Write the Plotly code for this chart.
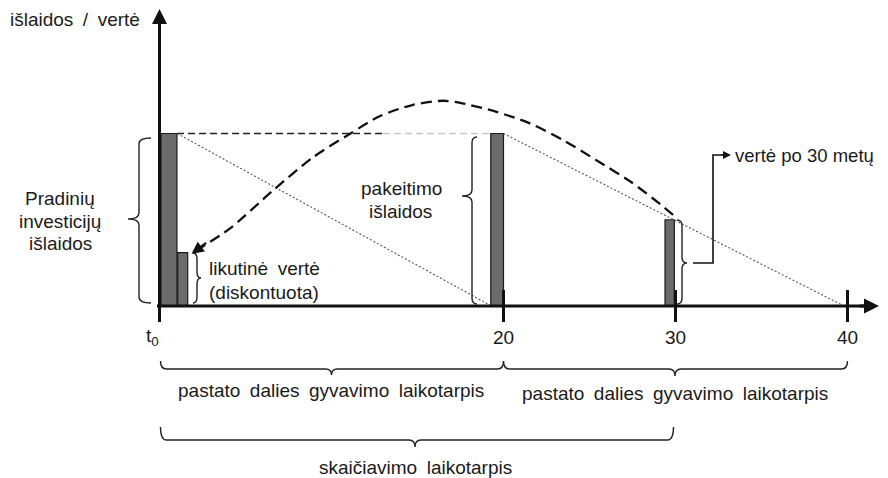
import plotly.graph_objects as go

# ---------------- data ----------------
bar_t = [0.55, 1.35, 19.63, 29.66]          # bar centres (years)
bar_w = [0.93, 0.58, 0.74, 0.54]            # bar widths (years)
bar_v = [100, 31, 100, 50]                  # costs / values

repl_line_t = [1.02, 13.0, 19.26]           # horizontal dashed reference (replacement cost level)
repl_line_v = [100, 100, 100]
dep1_t = [1.02, 19.3]                       # depreciation of first component
dep1_v = [100, 0]
dep2_t = [20.0, 39.8]                       # depreciation of replacement component
dep2_v = [100, 0]

curve_t = [2.1, 4.1, 6.6, 8.9, 11.1, 12.8, 14.7, 16.5, 17.6, 19.6, 21.5, 23.5, 25.4, 27.4, 29.3, 29.95]
curve_v = [32, 45, 67, 86, 100, 110, 116.5, 119, 117.5, 112.5, 106, 96, 84.5, 72, 57.5, 52]

tick_years = [0, 20, 30, 40]
tick_labels = ["t<sub>0</sub>", "20", "30", "40"]

life1 = (0, 20)
life2 = (20, 40)
calc_period = (0, 30)

# ---------------- scale ----------------
W, H = 888, 478
OFF = 8                       # default page body margin
PX0, SX = 159.5, 17.2
PY0, SY = 306.0, 1.725


def T(px):
    return (px - PX0) / SX


def V(py):
    return (PY0 - py) / SY


def dx(p):
    return p / SX


def dy(p):
    return p / SY


SP = "\u2002"   # wider word spacing, as in the original
FONT = dict(family="Liberation Sans, Arial, Helvetica, sans-serif", size=19, color="#1a1a1a")
INK = "#111111"

fig = go.Figure()

# bars
fig.add_trace(go.Bar(x=bar_t, y=bar_v, width=bar_w,
                     marker=dict(color="#6b6b6b", line=dict(color="#1a1a1a", width=1.2)),
                     hoverinfo="skip"))

# dashed horizontal (black then light gray)
fig.add_trace(go.Scatter(x=repl_line_t[:2], y=repl_line_v[:2], mode="lines",
                         line=dict(color="#222222", width=1.4, dash="7px,4px"), hoverinfo="skip"))
fig.add_trace(go.Scatter(x=repl_line_t[1:], y=repl_line_v[1:], mode="lines",
                         line=dict(color="#c8c8c8", width=1.4, dash="7px,4px"), hoverinfo="skip"))
# dotted depreciation lines
for tt, vv in ((dep1_t, dep1_v), (dep2_t, dep2_v)):
    fig.add_trace(go.Scatter(x=tt, y=vv, mode="lines",
                             line=dict(color="#555555", width=1.1, dash="2px,2px"), hoverinfo="skip"))
# discounting curve
fig.add_trace(go.Scatter(x=curve_t, y=curve_v, mode="lines",
                         line=dict(color=INK, width=2.3, dash="11px,6px", shape="spline", smoothing=0.8),
                         hoverinfo="skip"))

shapes = []
annotations = []

# axes
shapes.append(dict(type="line", xref="x", yref="y", x0=0, x1=0, y0=V(322), y1=V(20),
                   line=dict(color=INK, width=3)))
shapes.append(dict(type="line", xref="x", yref="y", x0=T(157), x1=T(868), y0=0, y1=0,
                   line=dict(color=INK, width=3)))
annotations.append(dict(x=0, y=V(9), ax=0, ay=V(30), xref="x", yref="y", axref="x", ayref="y",
                        text="", showarrow=True, arrowhead=2, arrowsize=1, arrowwidth=3, arrowcolor=INK))
annotations.append(dict(x=T(879), y=0, ax=T(858), ay=0, xref="x", yref="y", axref="x", ayref="y",
                        text="", showarrow=True, arrowhead=2, arrowsize=1, arrowwidth=3, arrowcolor=INK))
for ty in tick_years[1:]:
    shapes.append(dict(type="line", xref="x", yref="y", x0=ty, x1=ty, y0=V(290), y1=V(322),
                       line=dict(color=INK, width=3)))
# tick labels
for ty, lab in zip(tick_years, tick_labels):
    xx = ty if ty else T(152)
    annotations.append(dict(x=xx, y=V(337), xref="x", yref="y", text=lab, showarrow=False,
                            font=FONT, xanchor="center", yanchor="middle"))
annotations.append(dict(x=T(883), y=V(321), xref="x", yref="y", text="t", showarrow=False,
                        font=FONT, xanchor="center", yanchor="middle"))
annotations.append(dict(x=T(8), y=V(19), xref="x", yref="y", text=f"išlaidos{SP}/{SP}vertė", showarrow=False,
                        font=FONT, xanchor="left", yanchor="middle"))

# curve arrowhead
annotations.append(dict(x=curve_t[0] - dx(4), y=curve_v[0] - dy(3), xref="x", yref="y", ax=16, ay=-12,
                        text="", showarrow=True, arrowhead=2, arrowsize=1.1, arrowwidth=2.2, arrowcolor=INK))


# braces
def vbrace(x, y1, y2, ym, w, tip, side):
    """vertical brace at x from y1 (bottom) to y2 (top), tip at ym; side=-1 tip to left"""
    ew = dx(w) * (-side)
    tp = dx(tip) * side
    c = dy(6)
    return (f"M {x + ew},{y2} Q {x},{y2} {x},{y2 - c} L {x},{ym + c} Q {x},{ym} {x + tp},{ym} "
            f"Q {x},{ym} {x},{ym - c} L {x},{y1 + c} Q {x},{y1} {x + ew},{y1}")


def hbrace(x1, x2, y, xm, h, tip):
    """horizontal brace, ends up by h px, tip down by tip px"""
    c = dx(6)
    he = dy(h)
    tp = dy(tip)
    return (f"M {x1},{y + he} Q {x1},{y} {x1 + c},{y} L {xm - c},{y} Q {xm},{y} {xm},{y - tp} "
            f"Q {xm},{y} {xm + c},{y} L {x2 - c},{y} Q {x2},{y} {x2},{y + he}")


brace_line = dict(color="#222222", width=1.4)
shapes.append(dict(type="path", xref="x", yref="y", line=brace_line,
                   path=vbrace(T(139), V(303), V(138), V(219), 12, 11, -1)))
shapes.append(dict(type="path", xref="x", yref="y", line=brace_line,
                   path=vbrace(T(197), V(303), V(253), V(278), 4, 4, 1)))
shapes.append(dict(type="path", xref="x", yref="y", line=brace_line,
                   path=vbrace(T(472), V(304), V(137), V(196), 5, 10, -1)))
shapes.append(dict(type="path", xref="x", yref="y", line=brace_line,
                   path=vbrace(T(682), V(304), V(220), V(263), 5, 5, 1)))

shapes.append(dict(type="path", xref="x", yref="y", line=brace_line,
                   path=hbrace(life1[0] + dx(1), life1[1], V(369), T(331.5), 8, 6)))
shapes.append(dict(type="path", xref="x", yref="y", line=brace_line,
                   path=hbrace(life2[0], life2[1], V(369), T(675), 8, 7)))
shapes.append(dict(type="path", xref="x", yref="y", line=brace_line,
                   path=hbrace(calc_period[0] + dx(1), calc_period[1] - dx(2), V(440), T(415), 13, 7)))

# connector to "vertė po 30 metų"
shapes.append(dict(type="path", xref="x", yref="y", line=dict(color=INK, width=1.6),
                   path=f"M {T(693)},{V(263)} L {T(713)},{V(263)} L {T(713)},{V(155)} L {T(724)},{V(155)}"))
annotations.append(dict(x=T(731), y=V(155), ax=T(720), ay=V(155), xref="x", yref="y", axref="x", ayref="y",
                        text="", showarrow=True, arrowhead=2, arrowsize=1, arrowwidth=1.6, arrowcolor=INK))


# texts
def txt(px, py, s, anchor="center", wide=True, size=19):
    f = dict(FONT, size=size)
    annotations.append(dict(x=T(px), y=V(py), xref="x", yref="y",
                            text=s.replace(" ", SP) if wide else s, showarrow=False,
                            font=f, xanchor=anchor, yanchor="middle"))


txt(60, 198, "Pradinių")
txt(60, 221, "investicijų")
txt(60, 243, "išlaidos")
txt(207, 268, "likutinė vertė", "left")
txt(207, 292, "(diskontuota)", "left")
txt(401, 188, "pakeitimo")
txt(400, 211, "išlaidos")
txt(733, 155, "vertė po 30 metų", "left", wide=False, size=18.5)
txt(331, 390, "pastato dalies gyvavimo laikotarpis")
txt(675, 393, "pastato dalies gyvavimo laikotarpis")
txt(415, 467, "skaičiavimo laikotarpis")

fig.update_layout(
    width=W - OFF, height=H - OFF, margin=dict(l=0, r=0, t=0, b=0),
    paper_bgcolor="white", plot_bgcolor="white", showlegend=False,
    xaxis=dict(range=[T(OFF), T(W)], visible=False, fixedrange=True),
    yaxis=dict(range=[V(H), V(OFF)], visible=False, fixedrange=True),
    shapes=shapes, annotations=annotations,
)

fig.write_html("out.html")
